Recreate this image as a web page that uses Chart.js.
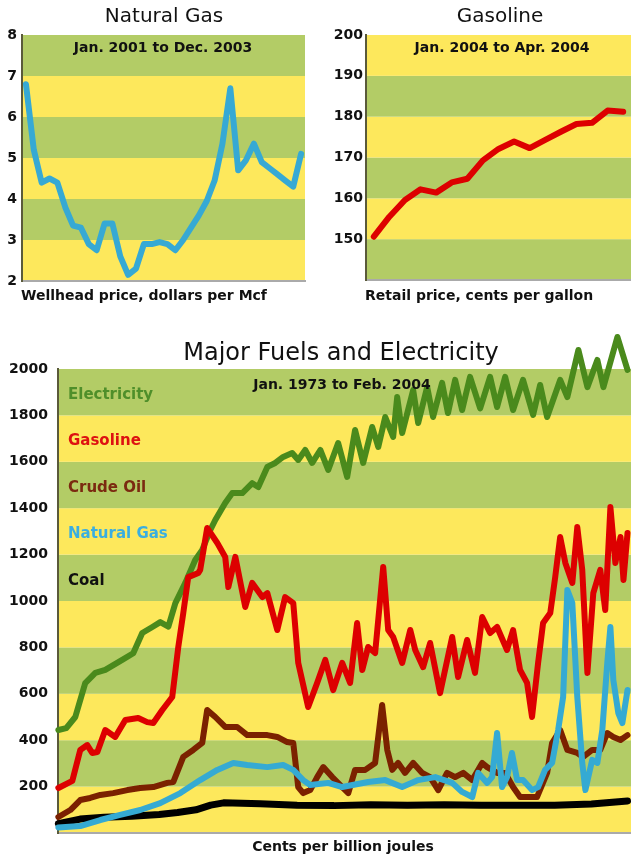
<!DOCTYPE html>
<html>
<head>
<meta charset="utf-8">
<script src="https://cdn.jsdelivr.net/npm/chart.js@4.4.1/dist/chart.umd.min.js"></script>
<style>
  body { margin: 0; background: #fff; }
  #wrap { position: relative; width: 631px; height: 860px; overflow: hidden; background: #fff; }
  .box { position: absolute; }
</style>
</head>
<body>
<div id="wrap">
  <div class="box" style="left:0;top:0;width:315px;height:310px"><canvas id="gasChart"></canvas></div>
  <div class="box" style="left:315px;top:0;width:316px;height:310px"><canvas id="petrolChart"></canvas></div>
  <div class="box" style="left:0;top:320px;width:631px;height:540px"><canvas id="fuelsChart"></canvas></div>
</div>
<script>
// ---- Natural gas, wellhead price ($/Mcf), monthly 2001-2003
const monthNames = ['Jan','Feb','Mar','Apr','May','Jun','Jul','Aug','Sep','Oct','Nov','Dec'];
const gasMonths = [];
[2001, 2002, 2003].forEach(y => monthNames.forEach(m => gasMonths.push(m + ' ' + y)));
const gasPrices = [6.8, 5.2, 4.4, 4.5, 4.4, 3.8, 3.35, 3.3, 2.9, 2.75, 3.4, 3.4,
                   2.6, 2.15, 2.3, 2.9, 2.9, 2.95, 2.9, 2.75, 3.0, 3.3, 3.6, 3.95,
                   4.45, 5.35, 6.7, 4.7, 4.95, 5.35, 4.9, 4.75, 4.6, 4.45, 4.3, 5.1];
const gasTicks = [2, 3, 4, 5, 6, 7, 8];

// ---- Gasoline retail (cents/gal), weekly Jan-Apr 2004
const gasolineWeeks = ['Jan 5','Jan 12','Jan 19','Jan 26','Feb 2','Feb 9','Feb 16','Feb 23',
                       'Mar 1','Mar 8','Mar 15','Mar 22','Mar 29','Apr 5','Apr 12','Apr 19','Apr 26'];
const gasolinePrices = [150.6, 155.5, 159.6, 162.2, 161.4, 163.9, 164.8, 169.3,
                        172.1, 173.9, 172.3, 174.3, 176.3, 178.2, 178.5, 181.5, 181.2];
const gasolineTicks = [150, 160, 170, 180, 190, 200];

// ---- Major fuels (cents per billion joules), 1973-2004
const elecYears = [1973.02, 1973.45, 1973.94, 1974.48, 1975.03, 1975.57, 1976.49, 1977.09, 1977.58, 1978.13,
  1978.56, 1979.00, 1979.38, 1979.92, 1980.46, 1980.84, 1981.28, 1981.55, 1982.09, 1982.47,
  1983.02, 1983.56, 1983.89, 1984.38, 1984.81, 1985.24, 1985.73, 1986.06, 1986.44, 1986.82,
  1987.26, 1987.69, 1988.23, 1988.72, 1989.15, 1989.59, 1990.08, 1990.41, 1990.79, 1991.22,
  1991.44, 1991.71, 1992.31, 1992.58, 1993.07, 1993.39, 1993.88, 1994.20, 1994.59, 1994.97,
  1995.40, 1995.95, 1996.49, 1996.87, 1997.31, 1997.74, 1998.28, 1998.83, 1999.21, 1999.59,
  2000.30, 2000.69, 2001.29, 2001.78, 2002.32, 2002.65, 2003.41, 2003.96];
const elecValues = [444, 452, 500, 646, 690, 703, 746, 775, 862, 888,
  909, 890, 991, 1078, 1177, 1220, 1306, 1349, 1422, 1465,
  1465, 1508, 1491, 1578, 1595, 1621, 1638, 1608, 1651, 1595,
  1651, 1565, 1681, 1535, 1737, 1595, 1750, 1664, 1793, 1707,
  1879, 1724, 1909, 1767, 1922, 1793, 1940, 1810, 1953, 1823,
  1966, 1830, 1966, 1836, 1966, 1823, 1953, 1802, 1931, 1793,
  1953, 1879, 2082, 1922, 2039, 1922, 2138, 1996];

const gasolineYears = [1973.02, 1973.78, 1974.21, 1974.59, 1974.86, 1975.14, 1975.57, 1976.11, 1976.66, 1977.36,
  1977.85, 1978.18, 1978.67, 1979.21, 1979.54, 1979.81, 1980.08, 1980.63, 1980.73, 1981.11,
  1981.66, 1982.09, 1982.26, 1982.64, 1983.18, 1983.56, 1984.11, 1984.38, 1984.92, 1985.35,
  1985.79, 1986.06, 1986.60, 1987.09, 1987.53, 1987.96, 1988.45, 1988.88, 1989.26, 1989.54,
  1989.86, 1990.24, 1990.68, 1990.95, 1991.22, 1991.71, 1992.15, 1992.42, 1992.85, 1993.23,
  1993.77, 1994.43, 1994.75, 1995.24, 1995.67, 1996.06, 1996.49, 1996.87, 1997.41, 1997.74,
  1998.12, 1998.50, 1998.77, 1999.10, 1999.37, 1999.76, 2000.03, 2000.30, 2000.58, 2000.96,
  2001.23, 2001.50, 2001.78, 2002.10, 2002.48, 2002.75, 2003.03, 2003.30, 2003.58, 2003.74, 2003.96];
const gasolineValues = [194, 225, 358, 379, 345, 349, 444, 414, 487, 496,
  478, 474, 530, 586, 802, 948, 1103, 1121, 1134, 1315,
  1250, 1190, 1060, 1190, 974, 1078, 1017, 1034, 875, 1017,
  991, 733, 543, 647, 746, 616, 733, 647, 905, 703,
  802, 776, 1147, 875, 845, 733, 875, 789, 715, 819,
  603, 845, 672, 832, 690, 931, 862, 888, 789, 875,
  703, 647, 500, 733, 905, 948, 1103, 1276, 1164, 1078,
  1319, 1134, 690, 1034, 1134, 961, 1405, 1164, 1276, 1091, 1293];

const crudeYears = [1973.02, 1973.67, 1974.21, 1974.75, 1975.30, 1976.00, 1976.77, 1977.47, 1978.18, 1978.94,
  1979.27, 1979.81, 1980.35, 1980.84, 1981.11, 1981.55, 1982.09, 1982.74, 1983.29, 1984.38,
  1984.92, 1985.46, 1985.79, 1986.06, 1986.33, 1986.71, 1987.09, 1987.42, 1987.91, 1988.45,
  1988.78, 1989.15, 1989.70, 1990.24, 1990.62, 1990.90, 1991.17, 1991.49, 1991.87, 1992.31,
  1992.80, 1993.23, 1993.67, 1994.15, 1994.59, 1995.03, 1995.52, 1996.06, 1996.33, 1996.87,
  1997.31, 1997.74, 1998.12, 1998.66, 1999.04, 1999.59, 1999.86, 2000.30, 2000.69, 2001.23,
  2001.55, 2002.04, 2002.48, 2002.86, 2003.19, 2003.58, 2003.96];
const crudeValues = [69, 99, 142, 151, 164, 172, 185, 194, 198, 216,
  220, 328, 358, 388, 530, 500, 457, 457, 422, 422,
  414, 392, 388, 198, 172, 185, 241, 284, 241, 198,
  172, 272, 272, 302, 552, 358, 272, 302, 259, 302,
  259, 241, 185, 259, 241, 259, 228, 302, 284, 259,
  259, 198, 155, 155, 155, 259, 388, 444, 358, 345,
  328, 358, 358, 431, 414, 401, 422];

const natGasYears = [1973.02, 1974.21, 1975.30, 1976.38, 1977.47, 1978.56, 1979.65, 1980.73, 1981.66, 1982.53,
  1983.29, 1984.38, 1985.24, 1985.79, 1986.33, 1986.71, 1987.69, 1988.45, 1989.86, 1990.79,
  1991.71, 1992.58, 1993.51, 1994.43, 1994.97, 1995.52, 1995.84, 1996.33, 1996.60, 1996.87,
  1997.14, 1997.41, 1997.68, 1997.96, 1998.28, 1998.77, 1999.10, 1999.48, 1999.86, 2000.19,
  2000.46, 2000.69, 2000.96, 2001.23, 2001.50, 2001.67, 2002.04, 2002.32, 2002.59, 2002.86,
  2003.03, 2003.19, 2003.46, 2003.68, 2003.96];
const natGasValues = [24, 30, 56, 78, 99, 129, 172, 228, 272, 302,
  293, 284, 293, 272, 228, 207, 216, 198, 220, 228,
  198, 228, 241, 216, 177, 155, 259, 216, 241, 431,
  198, 241, 345, 228, 228, 185, 198, 272, 302, 444,
  586, 1047, 991, 586, 302, 185, 315, 302, 444, 733,
  888, 659, 517, 474, 616];

const coalYears = [1973.02, 1974.20, 1975.50, 1977.00, 1978.50, 1979.50, 1980.50, 1981.30, 1982.00, 1984.00,
  1986.00, 1988.00, 1990.00, 1992.00, 1994.00, 1996.00, 1998.00, 2000.00, 2002.00, 2003.96];
const coalValues = [40, 60, 68, 72, 80, 88, 100, 120, 130, 126,
  120, 118, 122, 120, 122, 120, 120, 120, 125, 138];

const fuelTicks = [200, 400, 600, 800, 1000, 1200, 1400, 1600, 1800, 2000];

const GREEN_BAND = '#b3cc66';
const YELLOW_BAND = '#fde85c';
const FONT = '"DejaVu Sans", Verdana, sans-serif';

function pairs(xs, ys) {
  return xs.map((x, i) => ({ x: x, y: ys[i] }));
}

// alternating horizontal bands, one per tick step
const bandPlugin = {
  id: 'bands',
  beforeDraw(chart, args, opts) {
    const { ctx, chartArea: a, scales: { y } } = chart;
    ctx.save();
    let k = 0;
    for (let v = y.min; v < y.max - 1e-9; v += opts.step, k++) {
      const top = y.getPixelForValue(Math.min(v + opts.step, y.max));
      const bot = y.getPixelForValue(v);
      ctx.fillStyle = opts.colors[k % 2];
      ctx.fillRect(a.left, top, a.right - a.left, bot - top);
    }
    ctx.restore();
  }
};

// titles, notes and series names
const textPlugin = {
  id: 'texts',
  afterDraw(chart, args, opts) {
    const ctx = chart.ctx;
    ctx.save();
    ctx.textBaseline = 'middle';
    (opts.items || []).forEach(t => {
      ctx.font = t.font;
      ctx.fillStyle = t.color || '#111';
      ctx.textAlign = t.align || 'center';
      const y = t.yValue !== undefined ? chart.scales.y.getPixelForValue(t.yValue) + 3 : t.y;
      ctx.fillText(t.text, t.x, y);
    });
    ctx.restore();
  }
};

Chart.register(bandPlugin, textPlugin);

function yAxis(min, max, step, width, pad, showMin) {
  return {
    min: min, max: max,
    afterFit(scale) { scale.width = width; },
    grid: { display: false, drawTicks: false },
    border: { display: true, color: '#5a5a3a', width: 2 },
    ticks: {
      stepSize: step, padding: pad, color: '#111',
      font: { family: FONT, size: 14, weight: 'bold' },
      callback: v => (v === min && !showMin) ? '' : v
    }
  };
}

function flatX(extra) {
  return Object.assign({
    afterFit(scale) { scale.height = 0; },
    grid: { display: false, drawTicks: false },
    border: { display: true, color: '#aaa', width: 2 },
    ticks: { display: false }
  }, extra);
}

const hidden = { legend: { display: false }, tooltip: { enabled: false } };

// ---- chart 1: natural gas
new Chart(document.getElementById('gasChart'), {
  type: 'line',
  data: {
    labels: gasMonths,
    datasets: [{
      data: gasPrices,
      borderColor: '#36a9d4',
      borderWidth: 6,
      pointRadius: 0,
      borderJoinStyle: 'round',
      borderCapStyle: 'round',
      tension: 0
    }]
  },
  options: {
    responsive: true,
    maintainAspectRatio: false,
    animation: false,
    layout: { padding: { top: 35, right: 10, bottom: 29, left: 0 } },
    scales: {
      x: flatX({ offset: true }),
      y: yAxis(2, 8, 1, 22, 5, true)
    },
    plugins: Object.assign({
      bands: { step: 1, colors: [YELLOW_BAND, GREEN_BAND] },
      texts: { items: [
        { text: 'Natural Gas', x: 164, y: 17, font: '20px ' + FONT },
        { text: 'Jan. 2001 to Dec. 2003', x: 163, y: 48, font: 'bold 14px ' + FONT },
        { text: 'Wellhead price, dollars per Mcf', x: 21, y: 296, align: 'left', font: 'bold 14px ' + FONT }
      ] }
    }, hidden)
  }
});

// ---- chart 2: gasoline
new Chart(document.getElementById('petrolChart'), {
  type: 'line',
  data: {
    labels: gasolineWeeks,
    datasets: [{
      data: gasolinePrices,
      borderColor: '#dd0000',
      borderWidth: 6,
      pointRadius: 0,
      borderJoinStyle: 'round',
      borderCapStyle: 'round',
      tension: 0
    }]
  },
  options: {
    responsive: true,
    maintainAspectRatio: false,
    animation: false,
    layout: { padding: { top: 35, right: 0, bottom: 30, left: 0 } },
    scales: {
      x: flatX({ offset: true }),
      y: yAxis(140, 200, 10, 51, 3, false)
    },
    plugins: Object.assign({
      bands: { step: 10, colors: [GREEN_BAND, YELLOW_BAND] },
      texts: { items: [
        { text: 'Gasoline', x: 185, y: 17, font: '20px ' + FONT },
        { text: 'Jan. 2004 to Apr. 2004', x: 187, y: 48, font: 'bold 14px ' + FONT },
        { text: 'Retail price, cents per gallon', x: 50, y: 296, align: 'left', font: 'bold 14px ' + FONT }
      ] }
    }, hidden)
  }
});

// ---- chart 3: major fuels and electricity
function fuelSet(xs, ys, color, width) {
  return {
    data: pairs(xs, ys),
    borderColor: color,
    borderWidth: width,
    pointRadius: 0,
    borderJoinStyle: 'round',
    borderCapStyle: 'round',
    tension: 0,
    clip: false
  };
}

new Chart(document.getElementById('fuelsChart'), {
  type: 'line',
  data: {
    datasets: [
      fuelSet(natGasYears, natGasValues, '#35aad3', 6),
      fuelSet(gasolineYears, gasolineValues, '#dd0000', 6),
      fuelSet(crudeYears, crudeValues, '#7b2100', 6),
      fuelSet(elecYears, elecValues, '#4a8a1c', 6),
      fuelSet(coalYears, coalValues, '#000000', 7)
    ]
  },
  options: {
    responsive: true,
    maintainAspectRatio: false,
    animation: false,
    layout: { padding: { top: 49, right: 0, bottom: 27, left: 0 } },
    scales: {
      x: flatX({ type: 'linear', min: 1973, max: 2004.15 }),
      y: yAxis(0, 2000, 200, 58, 10, false)
    },
    plugins: Object.assign({
      bands: { step: 200, colors: [YELLOW_BAND, GREEN_BAND] },
      texts: { items: [
        { text: 'Major Fuels and Electricity', x: 341, y: 34, font: '24px ' + FONT },
        { text: 'Jan. 1973 to Feb. 2004', x: 342, y: 65, font: 'bold 14px ' + FONT },
        { text: 'Electricity', x: 68, yValue: 1900, align: 'left', color: '#4f8f2a', font: 'bold 15px ' + FONT },
        { text: 'Gasoline', x: 68, yValue: 1700, align: 'left', color: '#dd1111', font: 'bold 15px ' + FONT },
        { text: 'Crude Oil', x: 68, yValue: 1500, align: 'left', color: '#7b2a10', font: 'bold 15px ' + FONT },
        { text: 'Natural Gas', x: 68, yValue: 1300, align: 'left', color: '#3aaee0', font: 'bold 15px ' + FONT },
        { text: 'Coal', x: 68, yValue: 1100, align: 'left', color: '#111', font: 'bold 15px ' + FONT },
        { text: 'Cents per billion joules', x: 343, y: 527, font: 'bold 14px ' + FONT }
      ] }
    }, hidden)
  }
});
</script>
</body>
</html>
